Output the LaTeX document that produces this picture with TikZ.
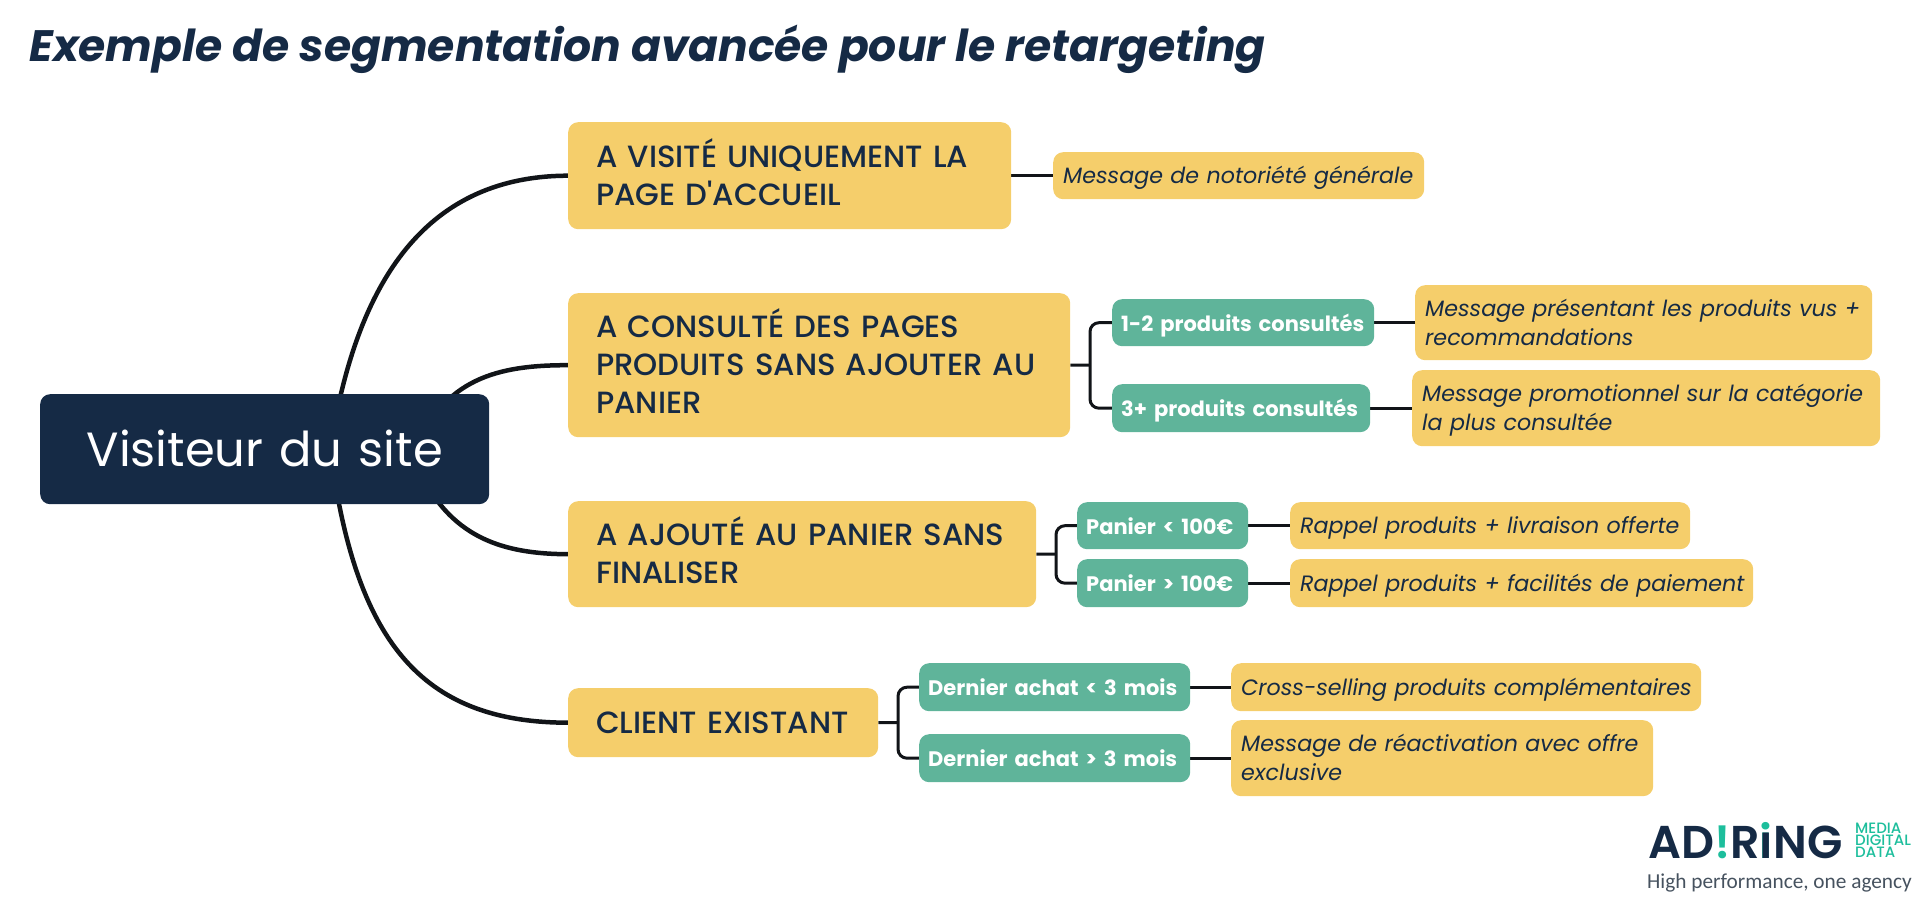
\documentclass[tikz,border=0pt]{standalone}
\usepackage{fontspec}
\usetikzlibrary{backgrounds}
\setmainfont{Poppins}
\newfontfamily\pmed{Poppins}[UprightFont=* Medium,ItalicFont=* Medium Italic,BoldFont=* SemiBold]
\newfontfamily\tagfont{Carlito}
\definecolor{navy}{HTML}{152A45}
\definecolor{sand}{HTML}{F5CE6B}
\definecolor{jade}{HTML}{5FB49A}
\definecolor{teal2}{HTML}{1DBE9C}
\definecolor{wire}{HTML}{111418}
\definecolor{tagc}{HTML}{46525F}
\newcommand{\txtdrop}{0pt}
\newcommand{\oneline}[1]{\leavevmode\rlap{\smash{\raisebox{-\txtdrop}{#1}}}}
\newcommand{\rootline}[1]{\leavevmode\hbox to 0pt{\hss\smash{\raisebox{-\txtdrop}{#1}}\hss}}
\tikzset{
  x=1pt,y=-1pt,
  boxbase/.style={anchor=north west,rounded corners=10pt,inner ysep=0pt,align=left},
  rootbox/.style={boxbase,fill=navy,text=white,align=center,inner xsep=0pt,font=\fontsize{48}{50}\selectfont,execute at begin node={\renewcommand{\txtdrop}{17pt}}},
  lvlone/.style={boxbase,fill=sand,text=navy,inner xsep=28pt,font=\pmed\fontsize{30.7}{37.8}\selectfont,execute at begin node={\renewcommand{\txtdrop}{10.5pt}}},
  lvltwo/.style={boxbase,fill=jade,text=white,inner xsep=9pt,font=\fontsize{21}{28}\bfseries\selectfont,execute at begin node={\renewcommand{\txtdrop}{8.3pt}}},
  lvlmsg/.style={boxbase,fill=sand,text=navy,inner xsep=10pt,font=\fontsize{22.2}{29}\itshape\selectfont,execute at begin node={\renewcommand{\txtdrop}{8.2pt}}},
  thick wire/.style={draw=wire,line width=4.5pt},
  thin wire/.style={draw=wire,line width=3pt},
  elbow/.style={thin wire,rounded corners=9pt},
}
\newcommand{\txtbox}[8]{%
  \pgfmathsetmacro{\bw}{#5-#3-2*#8}\pgfmathsetmacro{\bh}{#6-#4}%
  \node[#2,minimum height=\bh pt,text width=\bw pt] (#1) at (#3,#4) {#7};%
}
\begin{document}
\begin{tikzpicture}
\useasboundingbox (0,0) rectangle (1920,904);
\node[anchor=base west,inner sep=0pt,text=navy,font=\fontsize{44}{50}\bfseries\itshape\selectfont] (title) at (29,62) {Exemple de segmentation avancée pour le retargeting};

\txtbox{root}{rootbox}{40}{394}{489}{504}{\rootline{Visiteur du site}}{0}

\txtbox{a}{lvlone}{568}{122}{1011}{229}{\oneline{A VISITÉ UNIQUEMENT LA}\\\oneline{PAGE D'ACCUEIL}}{28}
\txtbox{b}{lvlone}{568}{293}{1070}{437}{\oneline{A CONSULTÉ DES PAGES}\\\oneline{PRODUITS SANS AJOUTER AU}\\\oneline{PANIER}}{28}
\txtbox{c}{lvlone}{568}{501}{1036}{607}{\oneline{A AJOUTÉ AU PANIER SANS}\\\oneline{FINALISER}}{28}
\txtbox{d}{lvlone}{568}{688}{878}{757}{\oneline{CLIENT EXISTANT}}{28}

\txtbox{b1}{lvltwo}{1112}{299}{1374}{346}{\oneline{1-2 produits consultés}}{9}
\txtbox{b2}{lvltwo}{1112}{384}{1370}{432}{\oneline{3+ produits consultés}}{9}
\txtbox{c1}{lvltwo}{1077}{502}{1248}{549}{\oneline{Panier < 100€}}{9}
\txtbox{c2}{lvltwo}{1077}{559}{1248}{607}{\oneline{Panier > 100€}}{9}
\txtbox{d1}{lvltwo}{919}{663}{1190}{711}{\oneline{Dernier achat < 3 mois}}{9}
\txtbox{d2}{lvltwo}{919}{734}{1190}{782}{\oneline{Dernier achat > 3 mois}}{9}

\txtbox{ma}{lvlmsg}{1053}{152}{1424}{199}{\oneline{Message de notoriété générale}}{10}
\txtbox{mb1}{lvlmsg}{1415}{285}{1872}{360}{\oneline{Message présentant les produits vus +}\\\oneline{recommandations}}{10}
\txtbox{mb2}{lvlmsg}{1412}{370}{1880}{446}{\oneline{Message promotionnel sur la catégorie}\\\oneline{la plus consultée}}{10}
\txtbox{mc1}{lvlmsg}{1290}{502}{1690}{549}{\oneline{Rappel produits + livraison offerte}}{10}
\txtbox{mc2}{lvlmsg}{1290}{559}{1753}{607}{\oneline{Rappel produits + facilités de paiement}}{10}
\txtbox{md1}{lvlmsg}{1231}{663}{1701}{711}{\oneline{Cross-selling produits complémentaires}}{10}
\txtbox{md2}{lvlmsg}{1231}{720}{1653}{796}{\oneline{Message de réactivation avec offre}\\\oneline{exclusive}}{10}

\coordinate (jb) at (1090,365);
\coordinate (jc) at (1056,554);
\coordinate (jd) at (898,722.5);

\begin{pgfonlayer}{background}
\draw[thick wire] (root.center) ++(65.5,0) .. controls (355,290) and (420,176) .. (a.west);
\draw[thick wire] (root.center) ++(150,0) .. controls (445,380) and (495,365) .. (b.west);
\draw[thick wire] (root.center) ++(145.5,0) .. controls (440,530) and (490,554) .. (c.west);
\draw[thick wire] (root.center) ++(65.5,0) .. controls (355,640) and (420,722.5) .. (d.west);
\draw[thin wire] (a.east) -- (ma.west);
\draw[thin wire] (b.east) -- (jb);
\draw[thin wire] (c.east) -- (jc);
\draw[thin wire] (d.east) -- (jd);
\draw[elbow] (b1.west) -| (jb) |- (b2.west);
\draw[elbow] (c1.west) -| (jc) |- (c2.west);
\draw[elbow] (d1.west) -| (jd) |- (d2.west);
\draw[thin wire] (b1.east) -- (mb1.west);
\draw[thin wire] (b2.east) -- (mb2.west);
\draw[thin wire] (c1.east) -- (mc1.west);
\draw[thin wire] (c2.east) -- (mc2.west);
\draw[thin wire] (d1.east) -- (md1.west);
\draw[thin wire] (d2.east) -- (md2.west);
\end{pgfonlayer}

\node[anchor=base west,inner sep=0pt,text=navy,font=\pmed\fontsize{46}{50}\bfseries\selectfont] (logo) at (1648,858) {AD\textcolor{teal2}{!}R\rlap{\textcolor{teal2}{i}}ıNG};
\node[anchor=north west,inner sep=0pt,align=left,text=teal2,font=\pmed\fontsize{15}{12}\selectfont] (logotag) at (1855,823) {MEDIA\\DIGITAL\\DATA};
\node[anchor=base west,inner sep=0pt,text=tagc,font=\tagfont\fontsize{21.3}{26}\selectfont] (tagline) at (1647,888) {High performance, one agency};
\end{tikzpicture}
\end{document}
